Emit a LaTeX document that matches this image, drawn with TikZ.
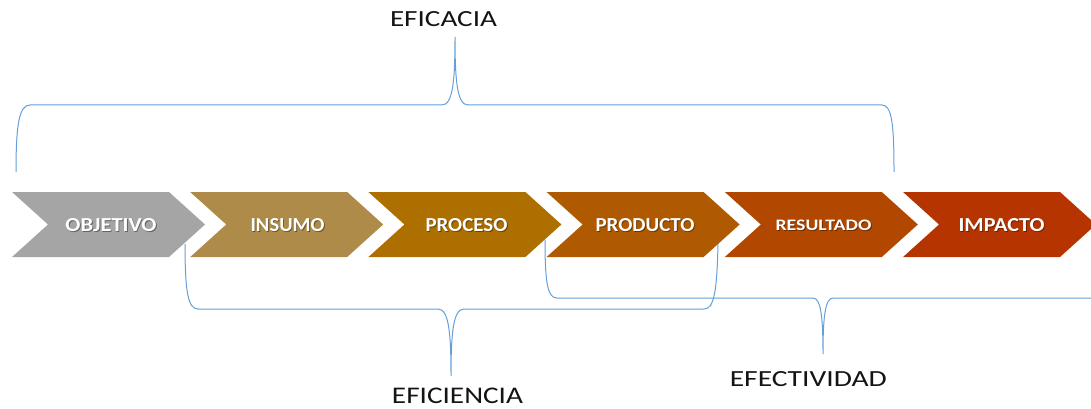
\documentclass[tikz,border=0pt]{standalone}
\usepackage{fontspec}
\setmainfont{Carlito}
\usepackage{graphicx}
\definecolor{braceblue}{RGB}{100,160,215}
\definecolor{labelblack}{RGB}{20,20,20}
\definecolor{cObj}{RGB}{165,165,165}
\definecolor{cIns}{RGB}{174,139,72}
\definecolor{cPro}{RGB}{173,111,0}
\definecolor{cPrd}{RGB}{175,90,0}
\definecolor{cRes}{RGB}{178,72,0}
\definecolor{cImp}{RGB}{181,52,0}
\tikzset{
  bracel/.style={draw=braceblue, line width=1pt},
  lbl/.style={inner sep=0pt, anchor=base, text=labelblack},
  chevtxt/.style={inner sep=0pt, anchor=base, text=white, font=\bfseries},
  chevshadow/.style={inner sep=0pt, anchor=base, text=black, opacity=0.4, font=\bfseries},
}
\begin{document}
\begin{tikzpicture}[x=1pt,y=-1pt]
\useasboundingbox (0,0) rectangle (1091,409);
\clip (0,0) rectangle (1091,409);
% labels
\node[lbl] (eficacia) at (443.5,26.7) {\resizebox{107pt}{15pt}{EFICACIA}};
\node[lbl] (eficiencia) at (457.5,403.6) {\resizebox{131pt}{15.5pt}{EFICIENCIA}};
\node[lbl] (efectividad) at (808.3,386.7) {\resizebox{157pt}{15pt}{EFECTIVIDAD}};
% braces (behind the chevrons)
\coordinate (tipA) at (455,37);
\coordinate (tipB) at (451,376);
\coordinate (tipC) at (823,354);
\draw[bracel] (16,172) .. controls (16,125) and (19,105) .. (30,105) -- (442,105)
  .. controls (453,105) and (455,80) .. (tipA)
  .. controls (455,80) and (457,105) .. (468,105) -- (882,105)
  .. controls (892,105) and (894,125) .. (894,172);
\draw[bracel] (185,244) .. controls (185,292) and (188,309) .. (198,309) -- (438,309)
  .. controls (449,309) and (451,334) .. (tipB)
  .. controls (451,334) and (453,309) .. (464,309) -- (704,309)
  .. controls (714,309) and (717,292) .. (718,243);
\draw[bracel] (545,240) .. controls (545,285) and (548,298) .. (557,298) -- (813,298)
  .. controls (821,298) and (823,318) .. (tipC)
  .. controls (823,318) and (825,298) .. (833,298) -- (1100,298);
% chevrons
\foreach \L/\c in {12/cObj,190.2/cIns,368.4/cPro,546.6/cPrd,724.8/cRes,903/cImp}{
  \fill[\c] (\L,192) -- ++(157,0) -- ++(36,32.5) -- ++(-36,32.5) -- ++(-157,0) -- ++(36,-32.5) -- cycle;
}
% chevron texts
\foreach \n/\t/\cx/\w/\h/\b in {objetivo/OBJETIVO/111/91/13/231.5,insumo/INSUMO/287.5/74/13/231.5,proceso/PROCESO/466.5/82/13/231.5,producto/PRODUCTO/645/99/13/231.5,resultado/RESULTADO/823.5/96/10.5/230.5,impacto/IMPACTO/1001.5/86/13/231.5}{
  \node[chevshadow] at (\cx+0.9,\b+0.9) {\resizebox{\w pt}{\h pt}{\t}};
  \node[chevtxt] (\n) at (\cx,\b) {\resizebox{\w pt}{\h pt}{\t}};
}
\end{tikzpicture}
\end{document}
